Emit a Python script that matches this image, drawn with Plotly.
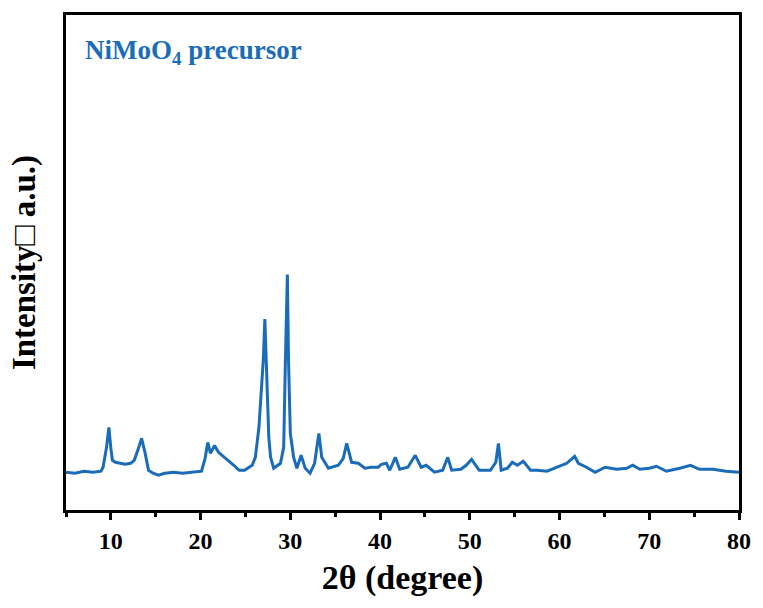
import plotly.graph_objects as go

two_theta = [5.0, 6.0, 7.0, 8.0, 8.9, 9.13, 9.5, 9.78, 10.0, 10.17, 10.5, 11.0, 11.6, 12.2, 12.6,
             13.0, 13.42, 13.8, 14.2, 14.7, 15.3, 16.0, 17.0, 18.0, 19.0, 20.1, 20.5, 20.8,
             21.1, 21.55, 22.0, 22.4, 23.1, 23.7, 24.3, 24.9, 25.75, 26.1, 26.5, 26.8, 27.0,
             27.16, 27.4, 27.6, 27.8, 28.15, 28.9, 29.26, 29.45, 29.67, 29.8, 30.0, 30.37,
             30.73, 31.2, 31.66, 32.2, 32.7, 33.18, 33.5, 34.25, 35.35, 35.9, 36.28, 36.83,
             37.57, 38.3, 39.0, 39.8, 40.15, 40.7, 41.08, 41.7, 42.19, 43.1, 43.92, 44.58,
             45.14, 46.06, 46.98, 47.54, 47.98, 49.0, 49.6, 50.2, 51.05, 52.3, 52.9, 53.19,
             53.5, 54.19, 54.74, 55.3, 55.96, 56.77, 57.5, 58.6, 59.7, 60.8, 61.68, 62.1,
             63.0, 63.97, 65.08, 66.37, 67.48, 68.15, 68.95, 70.0, 70.8, 71.9, 73.4, 74.6,
             75.6, 77.1, 78.55, 80.0]
intensity = [38, 37, 39, 38, 39, 43, 62, 83, 62, 50, 48, 47, 46, 47, 50,
             60, 72, 58, 40, 37, 35, 37, 38, 37, 38, 39, 52, 68,
             57, 65, 58, 55, 50, 45, 40, 40, 45, 53, 83, 123, 153,
             192, 123, 73, 53, 42, 47, 63, 150, 237, 150, 77, 53,
             42, 55, 42, 37, 47, 77, 53, 42, 45, 52, 67, 48,
             47, 42, 43, 43, 46, 47, 40, 53, 41, 43, 55, 43,
             45, 38, 40, 53, 40, 41, 45, 51, 40, 40, 48, 67,
             40, 42, 48, 45, 49, 40, 40, 39, 43, 47, 54, 47,
             43, 38, 43, 41, 42, 45, 41, 42, 44, 39, 42, 45,
             41, 41, 39, 38]

x_ticks = [10, 20, 30, 40, 50, 60, 70, 80]
line_color = "#1a6cb9"
font_serif = "Liberation Serif"

fig = go.Figure()
fig.add_trace(go.Scatter(x=two_theta, y=intensity, mode="lines",
                         line=dict(color=line_color, width=3), showlegend=False))

fig.add_annotation(text="<b>NiMoO<sub>4</sub> precursor</b>", xref="paper", yref="paper",
                   x=0.025, y=0.925, xanchor="left", yanchor="middle", showarrow=False,
                   font=dict(family=font_serif, size=27, color=line_color))

fig.update_layout(
    width=763, height=608,
    margin=dict(l=66, r=20, t=12, b=98),
    paper_bgcolor="white", plot_bgcolor="white",
    font=dict(family=font_serif, color="black"),
    xaxis=dict(range=[5, 80], tickvals=x_ticks, ticktext=[f"<b>{v}</b>" for v in x_ticks],
               ticks="outside", ticklen=7, tickwidth=2.5, tickcolor="black",
               minor=dict(dtick=5, tick0=5, ticks="outside", ticklen=4, tickwidth=2.5, tickcolor="black"),
               showline=True, linewidth=3, linecolor="black", mirror=True, showgrid=False,
               zeroline=False, tickfont=dict(size=24, family=font_serif),
               title=dict(text="<b>2θ (degree)</b>", font=dict(size=34, family=font_serif), standoff=13)),
    yaxis=dict(range=[0, 498], showticklabels=False, ticks="", showline=True, linewidth=3,
               linecolor="black", mirror=True, showgrid=False, zeroline=False,
               title=dict(text="<b>Intensity\u25a1 a.u.)</b>", font=dict(size=33, family=font_serif), standoff=18)),
)

fig.write_html("out.html")
